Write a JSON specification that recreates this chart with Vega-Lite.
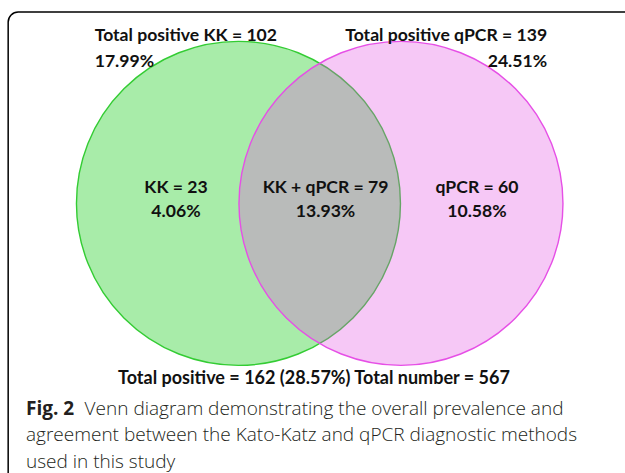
{
  "$schema": "https://vega.github.io/schema/vega-lite/v6.json",
  "width": 625,
  "height": 473,
  "autosize": {"type": "none"},
  "padding": 0,
  "background": "white",
  "config": {"view": {"stroke": null}},
  "datasets": {
    "sets": [
      {"set": "KK", "cx": 248, "cy": 215},
      {"set": "qPCR", "cx": 417, "cy": 215}
    ],
    "frame": [{"x": 8.5, "y": 12.8, "x2": 720, "y2": 620}],
    "leftLabels": [
      {"x": 98.5, "y": 43.3, "text": "Total positive KK = 102"},
      {"x": 98.5, "y": 70.6, "text": "17.99%"}
    ],
    "rightLabels": [
      {"x": 569, "y": 43.3, "text": "Total positive qPCR = 139"},
      {"x": 569, "y": 70.6, "text": "24.51%"}
    ],
    "centerLabels": [
      {"x": 183, "y": 204.2, "text": "KK = 23"},
      {"x": 183, "y": 229, "text": "4.06%"},
      {"x": 338.6, "y": 204.2, "text": "KK + qPCR = 79"},
      {"x": 338.6, "y": 229, "text": "13.93%"},
      {"x": 496, "y": 204.2, "text": "qPCR = 60"},
      {"x": 496, "y": 229, "text": "10.58%"}
    ],
    "totals": [
      {"x": 326.5, "y": 406, "text": "Total positive = 162 (28.57%) Total number = 567"}
    ],
    "captionBold": [{"x": 27, "y": 439, "text": "Fig. 2"}],
    "caption": [
      {"x": 88, "y": 439, "text": "Venn diagram demonstrating the overall prevalence and"},
      {"x": 27, "y": 466.5, "text": "agreement between the Kato-Katz and qPCR diagnostic methods"},
      {"x": 27, "y": 494.5, "text": "used in this study"}
    ]
  },
  "layer": [
    {
      "data": {"name": "frame"},
      "mark": {"type": "rect", "fill": null, "stroke": "#000000", "strokeWidth": 1.5, "cornerRadius": 10},
      "encoding": {
        "x": {"field": "x", "type": "quantitative", "scale": {"domain": [0, 625]}, "axis": null},
        "x2": {"field": "x2"},
        "y": {"field": "y", "type": "quantitative", "scale": {"domain": [0, 473], "reverse": true}, "axis": null},
        "y2": {"field": "y2"}
      }
    },
    {
      "data": {"name": "sets"},
      "transform": [{"filter": "datum.set === 'KK'"}],
      "mark": {"type": "point", "shape": "circle", "filled": true, "size": 104976, "fill": "#a8eca9", "fillOpacity": 1, "stroke": "#33cc33", "strokeWidth": 1.4, "strokeOpacity": 1, "opacity": 1},
      "encoding": {
        "x": {"field": "cx", "type": "quantitative"},
        "y": {"field": "cy", "type": "quantitative"}
      }
    },
    {
      "data": {"name": "sets"},
      "transform": [{"filter": "datum.set === 'qPCR'"}],
      "mark": {"type": "point", "shape": "circle", "filled": true, "size": 104976, "fill": "#e148e1", "fillOpacity": 0.3, "stroke": "#e64fe6", "strokeWidth": 1.4, "strokeOpacity": 1, "opacity": 1},
      "encoding": {
        "x": {"field": "cx", "type": "quantitative"},
        "y": {"field": "cy", "type": "quantitative"}
      }
    },
    {
      "data": {"name": "leftLabels"},
      "mark": {"type": "text", "align": "left", "baseline": "alphabetic", "font": "Lato", "fontWeight": "bold", "fontSize": 17.6, "color": "#111111"},
      "encoding": {
        "x": {"field": "x", "type": "quantitative"},
        "y": {"field": "y", "type": "quantitative"},
        "text": {"field": "text"}
      }
    },
    {
      "data": {"name": "rightLabels"},
      "mark": {"type": "text", "align": "right", "baseline": "alphabetic", "font": "Lato", "fontWeight": "bold", "fontSize": 17.6, "color": "#111111"},
      "encoding": {
        "x": {"field": "x", "type": "quantitative"},
        "y": {"field": "y", "type": "quantitative"},
        "text": {"field": "text"}
      }
    },
    {
      "data": {"name": "centerLabels"},
      "mark": {"type": "text", "align": "center", "baseline": "alphabetic", "font": "Lato", "fontWeight": "bold", "fontSize": 17.6, "color": "#111111"},
      "encoding": {
        "x": {"field": "x", "type": "quantitative"},
        "y": {"field": "y", "type": "quantitative"},
        "text": {"field": "text"}
      }
    },
    {
      "data": {"name": "totals"},
      "mark": {"type": "text", "align": "center", "baseline": "alphabetic", "font": "Lato", "fontWeight": "bold", "fontSize": 18, "color": "#111111"},
      "encoding": {
        "x": {"field": "x", "type": "quantitative"},
        "y": {"field": "y", "type": "quantitative"},
        "text": {"field": "text"}
      }
    },
    {
      "data": {"name": "captionBold"},
      "mark": {"type": "text", "align": "left", "baseline": "alphabetic", "font": "Open Sans", "fontWeight": "bold", "fontSize": 19, "color": "#231f20"},
      "encoding": {
        "x": {"field": "x", "type": "quantitative"},
        "y": {"field": "y", "type": "quantitative"},
        "text": {"field": "text"}
      }
    },
    {
      "data": {"name": "caption"},
      "mark": {"type": "text", "align": "left", "baseline": "alphabetic", "font": "Open Sans", "fontWeight": 300, "fontSize": 19, "color": "#231f20"},
      "encoding": {
        "x": {"field": "x", "type": "quantitative"},
        "y": {"field": "y", "type": "quantitative"},
        "text": {"field": "text"}
      }
    }
  ]
}
